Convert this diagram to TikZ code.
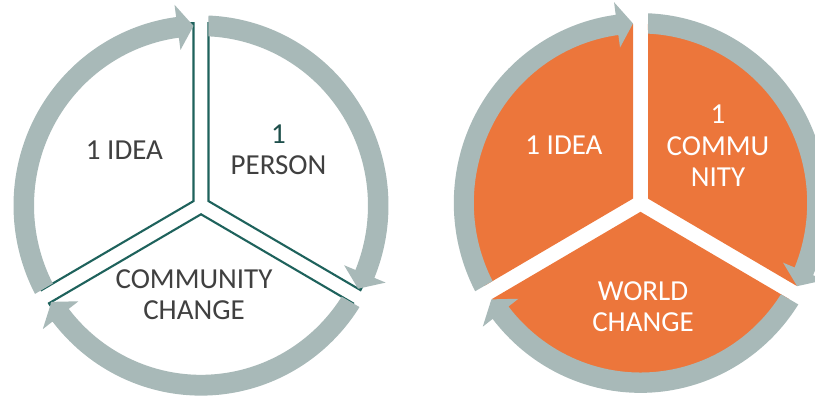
\documentclass[tikz,border=0pt]{standalone}
\usepackage{fontspec}
\setmainfont{Carlito}

\definecolor{ringgray}{HTML}{A8B9B8}
\definecolor{rimteal}{HTML}{1E625C}
\definecolor{wedgeorange}{HTML}{EC763B}
\definecolor{labelgray}{HTML}{404040}
\definecolor{digitteal}{HTML}{1E4F4B}

% half width of the straight gaps between the three sectors
\newcommand\gapw{7.5}

% curved ring arrow running clockwise from gap #1 to gap #2 (angles in degrees)
\newcommand\cyclearrow[2]{%
  \pgfmathsetmacro\arOutTail{#1-asin(\gapw/\ringOut)}%
  \pgfmathsetmacro\arInTail{#1-asin(\gapw/\ringIn)}%
  \pgfmathsetmacro\arTip{#2+asin(\gapw/\ringMid)}%
  \pgfmathsetmacro\arBack{\arTip+\headLen}%
  \pgfmathsetmacro\arHeadOut{\ringMid+\headHalf}%
  \pgfmathsetmacro\arHeadIn{\ringMid-\headHalf}%
  \fill[ringgray] (\arOutTail:\ringOut)
    arc[start angle=\arOutTail, end angle=\arBack, radius=\ringOut]
    -- (\arBack:\arHeadOut) -- (\arTip:\ringMid) -- (\arBack:\arHeadIn)
    -- (\arBack:\ringIn)
    arc[start angle=\arBack, end angle=\arInTail, radius=\ringIn] -- cycle;
}

% pie sector between gap #1 (lower angle) and gap #2 (upper angle), radius #3
\newcommand\sectorpiece[4]{%
  \pgfmathsetmacro\wgA{#1+asin(\gapw/#3)}%
  \pgfmathsetmacro\wgB{#2-asin(\gapw/#3)}%
  \pgfmathsetmacro\wgMid{(#1+#2)/2}%
  \pgfmathsetmacro\wgApex{\gapw/sin(60)}%
  \path[#4] (\wgMid:\wgApex) -- (\wgA:#3)
    arc[start angle=\wgA, end angle=\wgB, radius=#3] -- cycle;
}

\tikzset{
  lbl/.style={font=\fontsize{29}{31.5}\selectfont, inner sep=0pt, align=center},
  darklbl/.style={lbl, text=labelgray},
  lightlbl/.style={lbl, text=white},
  outlinewedge/.style={fill=white, draw=rimteal, line width=2.1pt, line join=miter},
  solidwedge/.style={fill=wedgeorange},
}

\begin{document}
\begin{tikzpicture}[x=1pt,y=1pt]
\useasboundingbox (0,0) rectangle (815,399);
\clip (0,0) rectangle (815,399);

% ---- left cycle: outlined sectors ----
\begin{scope}[shift={(201,193.5)}, yscale=1.014]
  \def\ringIn{167}\def\ringOut{187.5}\def\ringMid{177.25}
  \def\headHalf{22.5}\def\headLen{5.2}
  \sectorpiece{90}{210}{180}{outlinewedge}
  \sectorpiece{-30}{90}{180}{outlinewedge}
  \sectorpiece{210}{330}{180}{outlinewedge}
  \cyclearrow{210}{90}
  \cyclearrow{90}{-30}
  \cyclearrow{-30}{-150}
\end{scope}

% labels: the base anchor sits on the last line's baseline
\node[darklbl, anchor=base] (leftidea) at (124.5,239) {1 IDEA};
\node[darklbl, anchor=base] (leftperson) at (278.5,224) {{\color{digitteal}1}\\PERSON};
\node[darklbl, anchor=base] (leftchange) at (194,79) {COMMUNITY\\CHANGE};

% ---- right cycle: filled sectors ----
\begin{scope}[shift={(640.5,196)}, yscale=1.017]
  \def\ringIn{166.7}\def\ringOut{186.7}\def\ringMid{176.7}
  \def\headHalf{22.5}\def\headLen{5.2}
  \sectorpiece{90}{210}{176}{solidwedge}
  \sectorpiece{-30}{90}{176}{solidwedge}
  \sectorpiece{210}{330}{176}{solidwedge}
  \cyclearrow{210}{90}
  \cyclearrow{90}{-30}
  \cyclearrow{-30}{-150}
\end{scope}

\node[lightlbl, anchor=base] (rightidea) at (564,244) {1 IDEA};
\node[lightlbl, anchor=base] (rightcommunity) at (718,212) {1\\COMMU\\NITY};
\node[lightlbl, anchor=base] (rightchange) at (643,67) {WORLD\\CHANGE};
\end{tikzpicture}
\end{document}
